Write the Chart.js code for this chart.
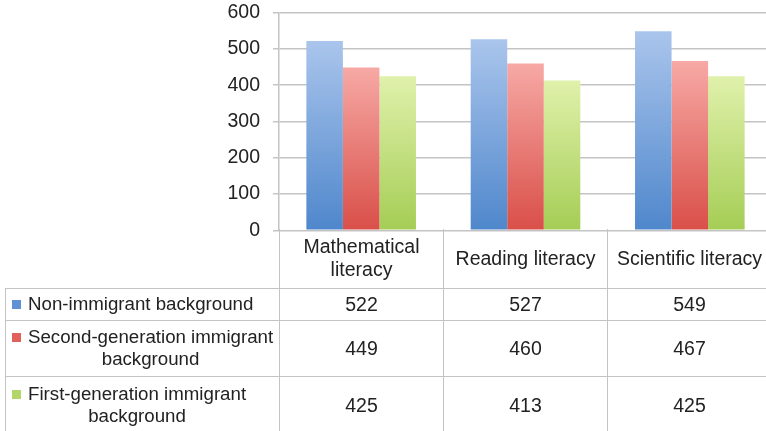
<!DOCTYPE html>
<html>
<head>
<meta charset="utf-8">
<script src="https://cdn.jsdelivr.net/npm/chart.js@4.4.1/dist/chart.umd.min.js"></script>
<style>
  html, body { margin: 0; padding: 0; background: #fff; overflow: hidden; }
  #wrap { position: relative; width: 772px; height: 431px; font-family: "Liberation Sans", Arial, sans-serif; color: #222; }
  #chartBox { position: absolute; left: 0; top: -12px; width: 772px; height: 267px; }
  #dataTable { position: absolute; left: 5px; top: 229px; border-collapse: collapse; table-layout: fixed; font-size: 19.5px; }
  #dataTable td { border: 1.5px solid #c4c4c4; text-align: center; vertical-align: middle; padding: 0; line-height: 23px; }
  #dataTable tr.head td { border-top: none; }
  #dataTable tr.head td.blank { border-left: none; }
  #dataTable td.label { text-align: left; padding-left: 6px; font-size: 18.7px; line-height: 22px; }
  .key { display: flex; align-items: flex-start; }
  .swatch { width: 9px; height: 9px; margin: 7px 7px 0 0; flex: none; }
  .name { display: inline-block; white-space: pre-line; text-align: center; }
</style>
</head>
<body>
<div id="wrap">
  <div id="chartBox"><canvas id="chart"></canvas></div>
  <table id="dataTable"></table>
</div>
<script>
const categories = ['Mathematical literacy', 'Reading literacy', 'Scientific literacy'];
const seriesNames = ['Non-immigrant background', 'Second-generation immigrant\nbackground', 'First-generation immigrant\nbackground'];
const nonImmigrant = [522, 527, 549];
const secondGeneration = [449, 460, 467];
const firstGeneration = [425, 413, 425];
const yTicks = [0, 100, 200, 300, 400, 500, 600];

const seriesValues = [nonImmigrant, secondGeneration, firstGeneration];
const swatchColors = ['#5f91d3', '#e0615a', '#b2d66a'];
const gradients = [
  ['#aac5ec', '#4f87cc'],
  ['#f7a9a5', '#d94f48'],
  ['#e0f1ab', '#a5cd55']
];

// vertical gradient per bar, light at the top
function barFill(top, bottom) {
  return (ctx) => {
    const chart = ctx.chart;
    const area = chart.chartArea;
    if (!area || !chart.scales.y || ctx.raw == null) return bottom;
    const yTop = chart.scales.y.getPixelForValue(ctx.raw);
    const g = chart.ctx.createLinearGradient(0, area.bottom, 0, yTop);
    g.addColorStop(0, bottom);
    g.addColorStop(1, top);
    return g;
  };
}

Chart.defaults.font.family = '"Liberation Sans", Arial, sans-serif';
Chart.defaults.color = '#222';

new Chart(document.getElementById('chart'), {
  type: 'bar',
  data: {
    labels: categories,
    datasets: seriesValues.map((vals, i) => ({
      label: seriesNames[i],
      data: vals,
      backgroundColor: barFill(gradients[i][0], gradients[i][1]),
      borderWidth: 0,
      categoryPercentage: 0.667,
      barPercentage: 1
    }))
  },
  options: {
    responsive: true,
    maintainAspectRatio: false,
    animation: false,
    layout: { padding: { left: 0, right: 0, top: 0, bottom: 0 } },
    plugins: { legend: { display: false }, tooltip: { enabled: false } },
    scales: {
      x: { display: false },
      y: {
        min: yTicks[0],
        max: yTicks[yTicks.length - 1],
        afterBuildTicks: (scale) => { scale.ticks = yTicks.map(v => ({ value: v })); },
        afterFit: (scale) => { scale.width = 279; },
        ticks: { font: { size: 19.5 }, padding: 13, color: '#222' },
        grid: { color: '#c4c4c4', lineWidth: 1.5, tickLength: 6 },
        border: { color: '#c4c4c4', width: 1.5 }
      }
    }
  }
});

// data table under the plot
const table = document.getElementById('dataTable');
const colgroup = document.createElement('colgroup');
[274, 164, 164, 164].forEach(w => {
  const c = document.createElement('col');
  c.style.width = w + 'px';
  colgroup.appendChild(c);
});
table.appendChild(colgroup);

const head = document.createElement('tr');
head.className = 'head';
head.style.height = '59px';
const blank = document.createElement('td');
blank.className = 'blank';
head.appendChild(blank);
categories.forEach(cat => {
  const td = document.createElement('td');
  td.textContent = cat;
  head.appendChild(td);
});
table.appendChild(head);

const rowHeights = [32, 56, 58];
seriesNames.forEach((name, i) => {
  const tr = document.createElement('tr');
  tr.style.height = rowHeights[i] + 'px';
  const label = document.createElement('td');
  label.className = 'label';
  const key = document.createElement('div');
  key.className = 'key';
  const sw = document.createElement('span');
  sw.className = 'swatch';
  sw.style.background = swatchColors[i];
  const txt = document.createElement('span');
  txt.className = 'name';
  txt.textContent = name;
  key.appendChild(sw);
  key.appendChild(txt);
  label.appendChild(key);
  tr.appendChild(label);
  seriesValues[i].forEach(v => {
    const td = document.createElement('td');
    td.textContent = v;
    tr.appendChild(td);
  });
  table.appendChild(tr);
});
</script>
</body>
</html>
